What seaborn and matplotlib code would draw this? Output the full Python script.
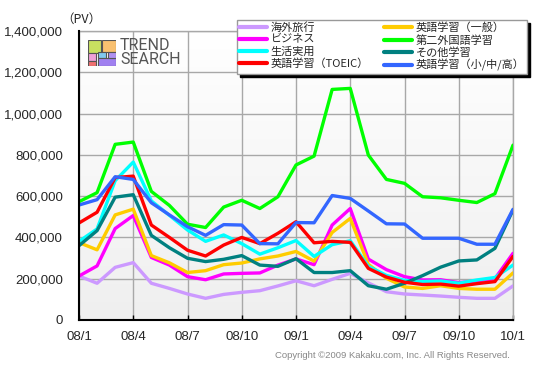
import numpy as np
import pandas as pd
import matplotlib
matplotlib.use("Agg")
import matplotlib.pyplot as plt
import seaborn as sns
from matplotlib.ticker import FuncFormatter
from matplotlib.lines import Line2D
from matplotlib.patches import Rectangle
from matplotlib.colors import LinearSegmentedColormap

# ---------------- data ----------------
months = ["08/1", "08/2", "08/3", "08/4", "08/5", "08/6", "08/7", "08/8", "08/9",
          "08/10", "08/11", "08/12", "09/1", "09/2", "09/3", "09/4", "09/5", "09/6",
          "09/7", "09/8", "09/9", "09/10", "09/11", "09/12", "10/1"]
tick_labels = ["08/1", "08/4", "08/7", "08/10", "09/1", "09/4", "09/7", "09/10", "10/1"]

overseas_travel = [213, 178, 255, 278, 178, 153, 126, 105, 124, 134, 142, 165, 190,
                   166, 197, 226, 180, 137, 126, 121, 116, 110, 105, 105, 165]
business = [213, 262, 443, 506, 303, 266, 210, 195, 223, 226, 228, 266, 296,
            268, 460, 540, 295, 244, 210, 194, 195, 181, 189, 200, 323]
daily_life = [381, 441, 675, 765, 577, 507, 436, 381, 412, 370, 319, 350, 385,
              308, 365, 384, 260, 216, 192, 186, 189, 178, 194, 206, 266]
english_toeic = [470, 522, 690, 697, 460, 400, 338, 310, 363, 400, 370, 420, 476,
                 374, 381, 376, 250, 208, 183, 172, 174, 164, 176, 186, 308]
english_general = [375, 340, 509, 537, 312, 277, 230, 239, 268, 276, 296, 310, 332,
                   285, 424, 492, 270, 202, 160, 153, 166, 153, 149, 149, 228]
second_language = [573, 617, 851, 862, 623, 555, 464, 448, 547, 580, 540, 597, 751,
                   794, 1117, 1122, 799, 681, 662, 597, 592, 580, 569, 612, 847]
other_study = [360, 433, 595, 607, 410, 350, 299, 283, 294, 312, 266, 260, 297,
               230, 230, 239, 166, 149, 178, 215, 256, 286, 291, 347, 533]
english_school = [557, 583, 694, 681, 568, 509, 452, 410, 462, 460, 370, 369, 472,
                  471, 603, 589, 528, 466, 465, 396, 396, 396, 367, 367, 536]

series_names = ["海外旅行", "ビジネス", "生活実用", "英語学習（TOEIC）",
                "英語学習（一般）", "第二外国語学習", "その他学習", "英語学習（小/中/高）"]
series_values = [overseas_travel, business, daily_life, english_toeic,
                 english_general, second_language, other_study, english_school]
series_colors = ["#cc99ff", "#ff00ff", "#00ffff", "#ff0000",
                 "#ffcc00", "#00ff00", "#008080", "#3366ff"]
draw_order = ["海外旅行", "ビジネス", "英語学習（一般）", "生活実用",
              "第二外国語学習", "その他学習", "英語学習（TOEIC）", "英語学習（小/中/高）"]

rows = []
for name, vals in zip(series_names, series_values):
    for i, (m, v) in enumerate(zip(months, vals)):
        rows.append({"idx": i, "month": m, "series": name, "pv": v * 1000})
df = pd.DataFrame(rows)
palette = dict(zip(series_names, series_colors))

# ---------------- style ----------------
sns.set_style("white")
plt.rcParams["font.family"] = ["Liberation Sans", "Noto Sans CJK JP", "DejaVu Sans"]

W, H = 537, 374
fig = plt.figure(figsize=(W / 100, H / 100), dpi=100)
ax = fig.add_axes([79 / W, 54 / H, 434 / W, 289 / H])

# background gradient of plot area
cmap = LinearSegmentedColormap.from_list("bg", ["#efefef", "#ffffff"])
ax.imshow(np.linspace(0, 1, 256).reshape(-1, 1), cmap=cmap, aspect="auto",
          extent=[0, 24, 0, 1400000], origin="lower", zorder=0)

sns.lineplot(data=df, x="idx", y="pv", hue="series", hue_order=draw_order,
             palette=palette, linewidth=2.4, legend=False, ax=ax, zorder=3)

ax.set_xlim(0, 24)
ax.set_ylim(0, 1400000)
ax.set_xticks(range(0, 25, 3))
ax.set_xticklabels(tick_labels)
ax.set_yticks(range(0, 1400001, 200000))
ax.yaxis.set_major_formatter(FuncFormatter(lambda v, p: f"{int(v):,}"))
ax.set_xlabel("")
ax.set_ylabel("")
ax.set_axisbelow(True)
ax.grid(True, color="#a8a8a8", linewidth=1.0)
ax.tick_params(axis="x", direction="in", length=3.5, width=1, color="black",
               pad=8, labelsize=9.5, bottom=True)
ax.tick_params(axis="y", length=0, pad=11.5, labelsize=9.5, left=True)
for s in ["left", "bottom"]:
    ax.spines[s].set_color("black")
    ax.spines[s].set_linewidth(1.5)
    ax.spines[s].set_zorder(5)
for s in ["top", "right"]:
    ax.spines[s].set_color("#a8a8a8")
    ax.spines[s].set_linewidth(1.0)

# legend
handles = [Line2D([0], [0], color=c, linewidth=3) for c in series_colors]
leg = fig.legend(handles, series_names, ncol=2, loc="upper left",
                 bbox_to_anchor=(237 / W, 1 - 20 / H), borderaxespad=0,
                 prop={"family": ["Noto Sans CJK JP", "DejaVu Sans"], "size": 8},
                 frameon=True, fancybox=False, framealpha=1,
                 edgecolor="#999999", facecolor="white",
                 shadow={"color": "black", "alpha": 1},
                 handlelength=2.5, handletextpad=0.3, columnspacing=1.4,
                 labelspacing=0.14, borderpad=0.22)
leg.get_frame().set_linewidth(1.0)

# (PV) unit label
fig.text(61 / W, 1 - 19 / H, "（PV）", ha="left", va="center", fontsize=9,
         family=["Noto Sans CJK JP", "DejaVu Sans"])

# logo
lax = fig.add_axes([88 / W, 1 - 66 / H, 28 / W, 26 / H])
lax.set_xlim(0, 1)
lax.set_ylim(0, 1)
lax.axis("off")
for (x0, y0, w, h, c) in [(0.0, 0.5, 0.45, 0.5, "#c8e060"),
                          (0.5, 0.55, 0.5, 0.45, "#f8c070"),
                          (0.0, 0.2, 0.3, 0.3, "#f0a0d8"),
                          (0.0, 0.0, 0.3, 0.2, "#f07070"),
                          (0.35, 0.3, 0.3, 0.25, "#80c8f0"),
                          (0.35, 0.0, 0.65, 0.3, "#a080f0"),
                          (0.7, 0.3, 0.3, 0.25, "#b090f0")]:
    lax.add_patch(Rectangle((x0, y0), w, h, facecolor=c, edgecolor="#555555", linewidth=0.8))
fig.text(120 / W, 1 - 46 / H, "TREND", ha="left", va="center", fontsize=11.5,
         color="#555555", family="Roboto")
fig.text(120 / W, 1 - 60 / H, "SEARCH", ha="left", va="center", fontsize=11.5,
         color="#555555", family="Roboto")

# copyright
fig.text(510 / W, 1 - 355 / H, "Copyright ©2009 Kakaku.com, Inc. All Rights Reserved.",
         ha="right", va="center", fontsize=6.8, color="#888888")

fig.savefig("out.png", dpi=100)
